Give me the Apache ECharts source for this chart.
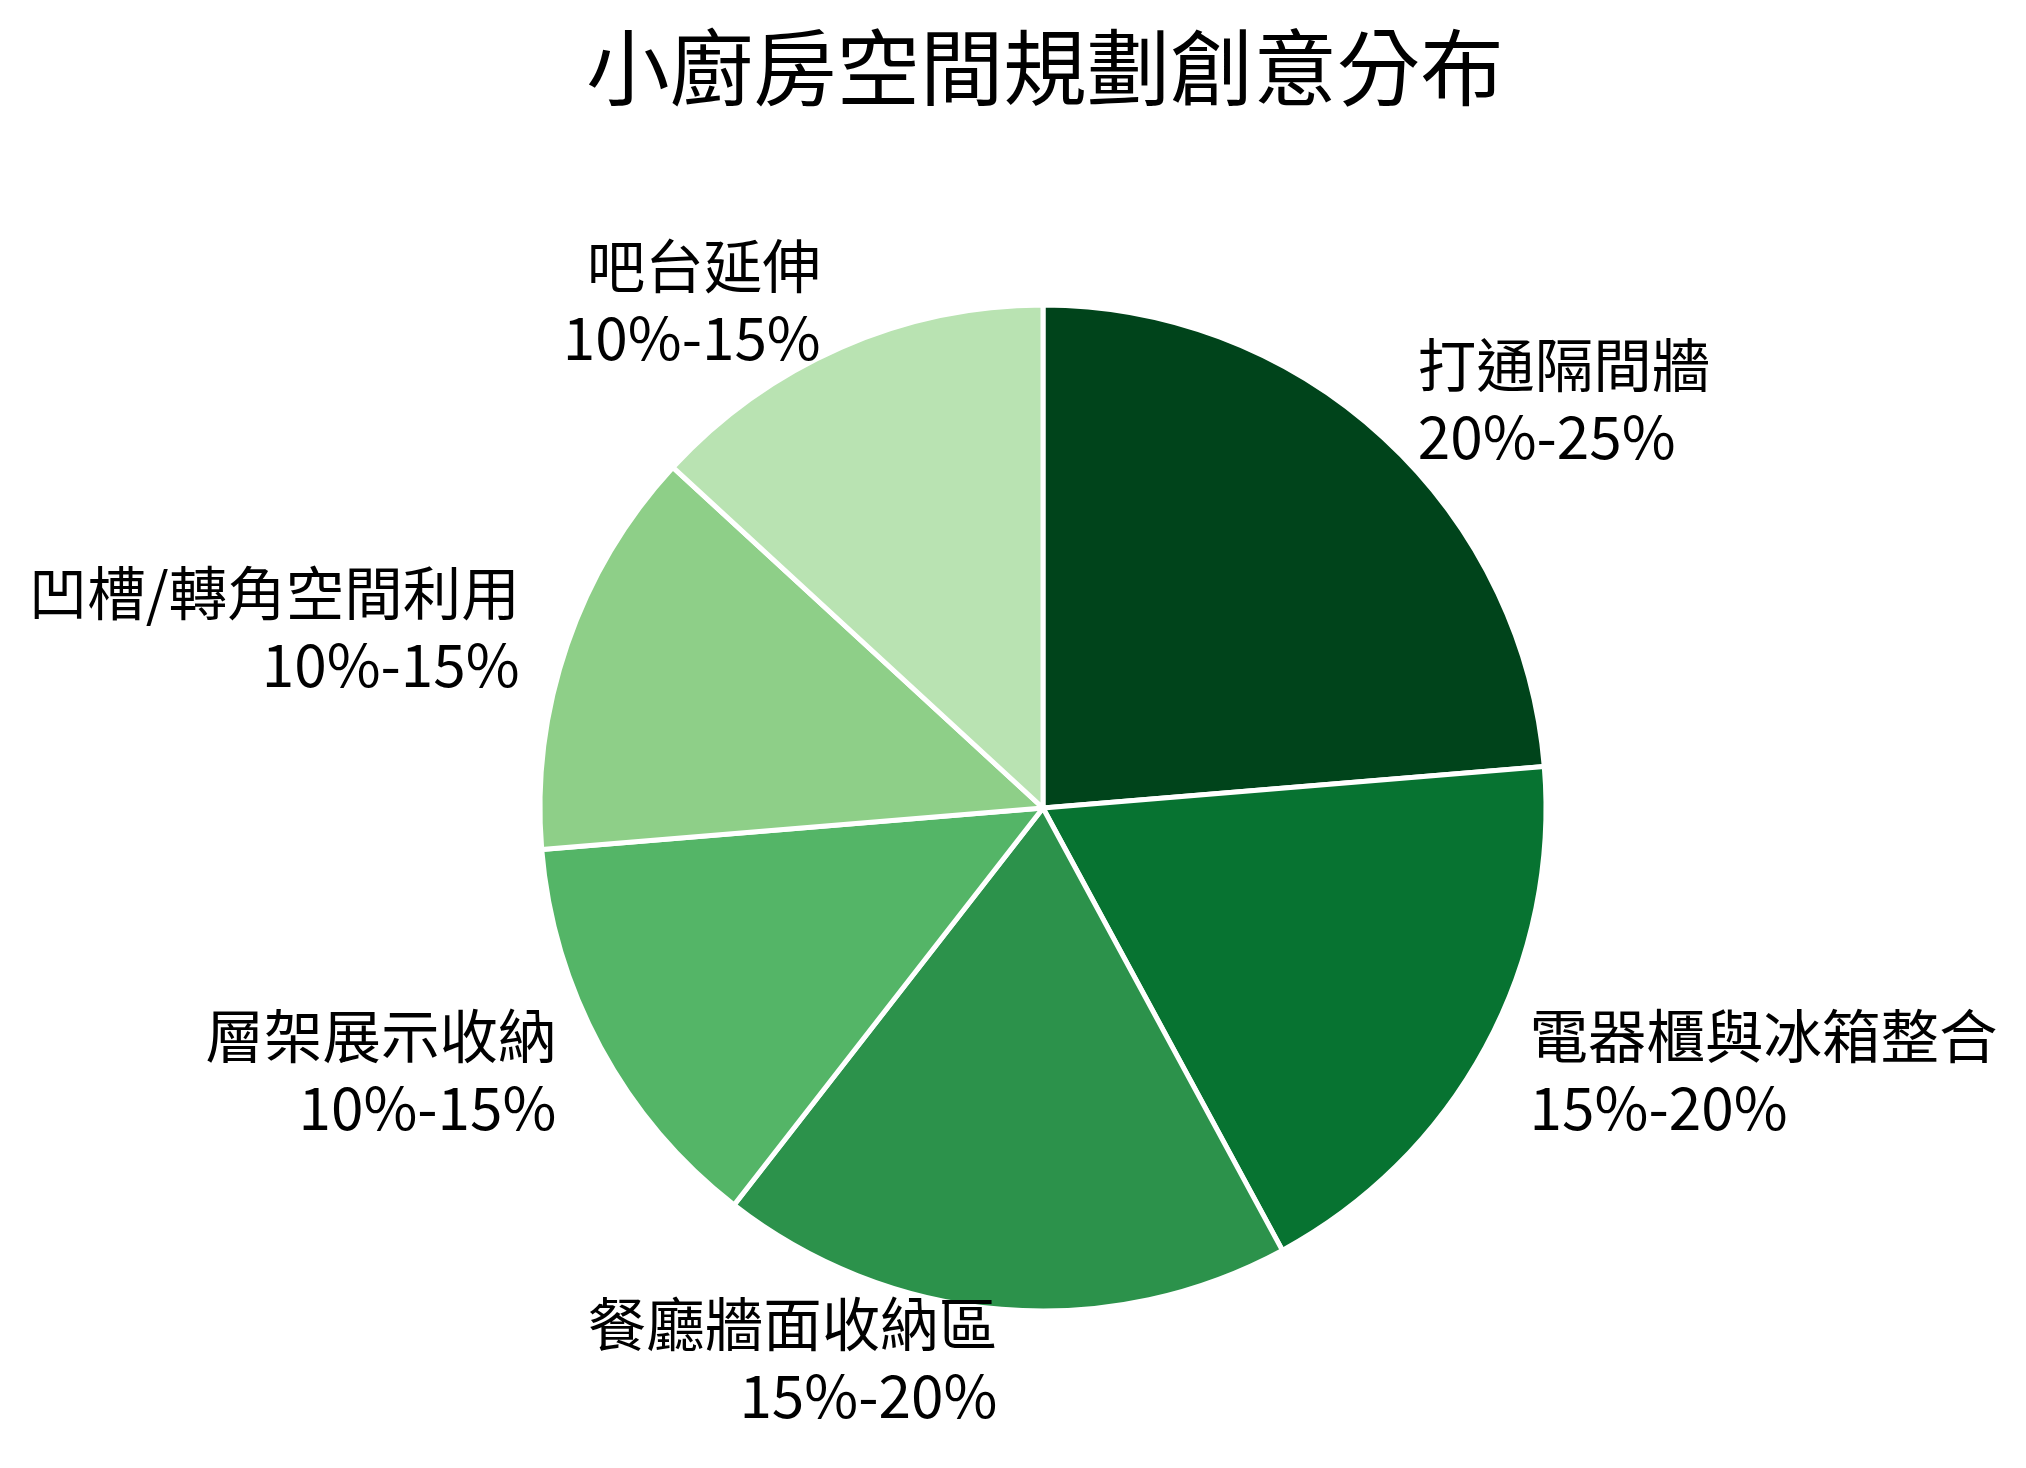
<!DOCTYPE html>
<html>
<head>
<meta charset="utf-8">
<script src="https://cdn.jsdelivr.net/npm/echarts@6/dist/echarts.min.js"></script>
<style>html,body{margin:0;padding:0;background:#fff;}#c{width:2026px;height:1468px;}</style>
</head>
<body>
<div id="c"></div>
<script>
const categories = ['打通隔間牆', '電器櫃與冰箱整合', '餐廳牆面收納區', '層架展示收納', '凹槽/轉角空間利用', '吧台延伸'];
const rangeLabels = ['20%-25%', '15%-20%', '15%-20%', '10%-15%', '10%-15%', '10%-15%'];
const values = [22.5, 17.5, 17.5, 12.5, 12.5, 12.5];
const colors = ['#00441b', '#077331', '#2c924b', '#54b567', '#8ecf88', '#b9e3b2'];

const chart = echarts.init(document.getElementById('c'));
const R = 503;
chart.setOption({
  backgroundColor: '#ffffff',
  animation: false,
  title: {
    text: '小廚房空間規劃創意分布',
    left: 1040,
    textAlign: 'center',
    top: 21,
    textStyle: { fontFamily: 'Noto Sans CJK TC', fontSize: 83.4, fontWeight: 'normal', color: '#000' }
  },
  series: [{
    type: 'pie',
    center: [1043, 808],
    radius: [0, R],
    startAngle: 90,
    clockwise: true,
    avoidLabelOverlap: false,
    itemStyle: { borderColor: '#ffffff', borderWidth: 5 },
    label: {
      show: true,
      position: 'outside',
      distanceToLabelLine: 0,
      fontFamily: 'Noto Sans CJK TC',
      fontSize: 58.5,
      lineHeight: 72,
      color: '#000',
      formatter: p => categories[p.dataIndex] + '\n' + rangeLabels[p.dataIndex]
    },
    labelLine: { show: false, length: R * 0.1, length2: 0 },
    emphasis: { disabled: true },
    data: categories.map((c, i) => ({ name: c, value: values[i], itemStyle: { color: colors[i] } }))
  }]
});
</script>
</body>
</html>
